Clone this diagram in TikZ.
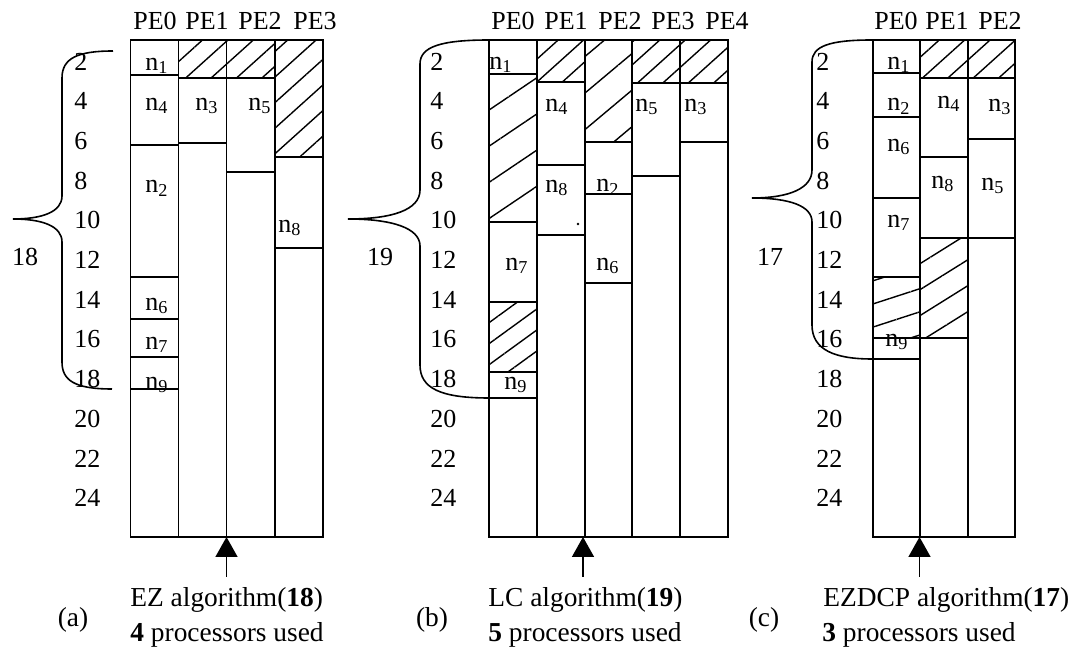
\documentclass[tikz,border=0pt]{standalone}
\usepackage{fontspec}
\setmainfont{Liberation Serif}
\usetikzlibrary{positioning, arrows.meta, patterns.meta}

\begin{document}
\begin{tikzpicture}[
    x=0.5pt, y=-0.5pt,
    % 枠と区切り線
    frame/.style={draw, line width=0.9pt},
    % 斜線部（アイドル時間）: 角度, 間隔
    idle/.style 2 args={pattern={Lines[angle=#1, distance=#2, line width=0.7pt]}},
    % 文字のスタイル
    tlabel/.style={font=\fontsize{13}{15}\selectfont, inner sep=0pt},
    pe/.style={font=\fontsize{13}{15}\selectfont, inner sep=0pt},
    tick/.style={font=\fontsize{13}{15}\selectfont, inner sep=0pt, anchor=west},
    caption/.style={font=\fontsize{13.7}{16}\selectfont, inner sep=0pt, anchor=base west},
    tag/.style={font=\fontsize{13.7}{16}\selectfont, inner sep=0pt, anchor=base},
    brace/.style={draw, line width=0.8pt},
    line/.style={draw, line width=0.8pt, -{Triangle[length=10pt, width=11pt]}}
  ]
  \useasboundingbox (0,0) rectangle (1073,657);

  % ===================== (a) EZ =====================
  % --- 斜線部 ---
  \path[idle={42}{8.5pt}] (178.5,40) rectangle (275,78);
  \path[idle={42}{9.5pt}] (275,40) rectangle (323,157);

  % --- 枠と列 ---
  \draw[frame] (130.5,40) rectangle (323,537);
  \draw[frame] (178.5,40) -- (178.5,537) (226.5,40) -- (226.5,537) (275,40) -- (275,537);
  \draw[frame] (130.5,75) -- (178.5,75) (130.5,145) -- (178.5,145) (130.5,277) -- (178.5,277)
               (130.5,319) -- (178.5,319) (130.5,357) -- (178.5,357) (130.5,389) -- (178.5,389);
  \draw[frame] (178.5,78) -- (275,78) (178.5,143) -- (226.5,143) (226.5,172) -- (275,172);
  \draw[frame] (275,157) -- (323,157) (275,248) -- (323,248);

  % --- PE名 ---
  \node[pe] (a-pe0) at (155,21) {PE0};
  \node[pe] (a-pe1) at (207,21) {PE1};
  \node[pe] (a-pe2) at (260,21) {PE2};
  \node[pe] (a-pe3) at (315,21) {PE3};

  % --- タスク ---
  \node[tlabel] (a-n1) at (157,66) {n\textsubscript{1}};
  \node[tlabel] (a-n4) at (157,106) {n\textsubscript{4}};
  \node[tlabel] (a-n3) at (207,106) {n\textsubscript{3}};
  \node[tlabel] (a-n5) at (260,106) {n\textsubscript{5}};
  \node[tlabel] (a-n2) at (157,188) {n\textsubscript{2}};
  \node[tlabel] (a-n8) at (290,228) {n\textsubscript{8}};
  \node[tlabel] (a-n6) at (157,306) {n\textsubscript{6}};
  \node[tlabel] (a-n7) at (157,345) {n\textsubscript{7}};
  \node[tlabel] (a-n9) at (157,385) {n\textsubscript{9}};

  % --- 時間軸 ---
  \foreach \t [count=\k from 0] in {2,4,...,24}
    \node[tick] (a-t\t) at (74,61.5+39.7*\k) {\t};
  \draw[brace] (113,51) .. controls (78,51) and (62,58) .. (62,78) -- (62,196)
               .. controls (62,212) and (42,219) .. (13,219)
               .. controls (42,219) and (62,226) .. (62,242) -- (62,362)
               .. controls (62,380) and (74,389) .. (112,389);
  \node[tlabel] (a-len) at (25,257) {18};

  % --- 矢印と説明 ---
  \coordinate (a-base) at (226.5,537);
  \coordinate (a-tail) at (226.5,577);
  \draw[line] (a-tail) -- (a-base);
  \node[caption] (a-alg) at (130,607) {EZ algorithm(\textbf{18})};
  \node[caption] (a-num) at (130,642) {\textbf{4} processors used};
  \node[tag] (a-tag) at (73,627) {(a)};

  % ===================== (b) LC =====================
  % --- 斜線部 ---
  \path[idle={34}{15pt}] (489,74) rectangle (536.7,222);
  \path[idle={36}{8.5pt}] (489,302) rectangle (536.7,372);
  \path[idle={42}{8.5pt}] (536.7,40) rectangle (585,82);
  \path[idle={40}{14pt}] (585,40) rectangle (632.3,142);
  \path[idle={42}{8.5pt}] (632.3,40) rectangle (728,83);

  % --- 枠と列 ---
  \draw[frame] (489,40) rectangle (728,537);
  \draw[frame] (536.7,40) -- (536.7,537) (585,40) -- (585,537) (632.3,40) -- (632.3,537)
               (680,40) -- (680,537);
  \draw[frame] (489,74) -- (536.7,74) (489,222) -- (536.7,222) (489,302) -- (536.7,302)
               (489,372) -- (536.7,372) (489,398) -- (536.7,398);
  \draw[frame] (536.7,82) -- (585,82) (536.7,165) -- (585,165) (536.7,235) -- (585,235);
  \draw[frame] (585,142) -- (632.3,142) (585,194) -- (632.3,194) (585,283) -- (632.3,283);
  \draw[frame] (632.3,83) -- (728,83) (632.3,176) -- (680,176) (680,142) -- (728,142);
  \fill (578,224) circle (1.3);

  % --- PE名 ---
  \node[pe] (b-pe0) at (513,21) {PE0};
  \node[pe] (b-pe1) at (566,21) {PE1};
  \node[pe] (b-pe2) at (620,21) {PE2};
  \node[pe] (b-pe3) at (673,21) {PE3};
  \node[pe] (b-pe4) at (727,21) {PE4};

  % --- タスク ---
  \node[tlabel] (b-n1) at (501,65) {n\textsubscript{1}};
  \node[tlabel] (b-n4) at (557,107) {n\textsubscript{4}};
  \node[tlabel] (b-n5) at (647,107) {n\textsubscript{5}};
  \node[tlabel] (b-n3) at (696,107) {n\textsubscript{3}};
  \node[tlabel] (b-n8) at (557,188) {n\textsubscript{8}};
  \node[tlabel] (b-n2) at (608,187) {n\textsubscript{2}};
  \node[tlabel] (b-n7) at (517,266) {n\textsubscript{7}};
  \node[tlabel] (b-n6) at (608,266) {n\textsubscript{6}};
  \node[tlabel] (b-n9) at (516,385) {n\textsubscript{9}};

  % --- 時間軸 ---
  \foreach \t [count=\k from 0] in {2,4,...,24}
    \node[tick] (b-t\t) at (430,61.5+39.7*\k) {\t};
  \draw[brace] (489,40) .. controls (440,40) and (420,47) .. (420,64) -- (420,190)
               .. controls (420,210) and (392,219) .. (348,219)
               .. controls (392,219) and (420,228) .. (420,246) -- (420,365)
               .. controls (420,388) and (440,398) .. (489,398);
  \node[tlabel] (b-len) at (380,257) {19};

  % --- 矢印と説明 ---
  \coordinate (b-base) at (583,537);
  \coordinate (b-tail) at (583,577);
  \draw[line] (b-tail) -- (b-base);
  \node[caption] (b-alg) at (488,607) {LC algorithm(\textbf{19})};
  \node[caption] (b-num) at (488,642) {\textbf{5} processors used};
  \node[tag] (b-tag) at (432,627) {(b)};

  % ===================== (c) EZDCP =====================
  % --- 斜線部 ---
  \path[idle={18}{11pt}] (872.7,277) rectangle (920,338);
  \path[idle={32}{11pt}] (920,238) rectangle (968.3,338);
  \path[idle={42}{8.5pt}] (920,40) rectangle (1015,78);

  % --- 枠と列 ---
  \draw[frame] (872.7,40) rectangle (1015,537);
  \draw[frame] (920,40) -- (920,537) (968.3,40) -- (968.3,537);
  \draw[frame] (872.7,73) -- (920,73) (872.7,117) -- (920,117) (872.7,198) -- (920,198)
               (872.7,277) -- (920,277) (872.7,338) -- (920,338) (872.7,359) -- (920,359);
  \draw[frame] (920,78) -- (1015,78) (920,157) -- (968.3,157) (920,238) -- (1015,238)
               (920,338) -- (968.3,338) (968.3,139) -- (1015,139);

  % --- PE名 ---
  \node[pe] (c-pe0) at (896,21) {PE0};
  \node[pe] (c-pe1) at (947,21) {PE1};
  \node[pe] (c-pe2) at (1000,21) {PE2};

  % --- タスク ---
  \node[tlabel] (c-n1) at (899,65) {n\textsubscript{1}};
  \node[tlabel] (c-n2) at (899,106) {n\textsubscript{2}};
  \node[tlabel] (c-n4) at (949,104) {n\textsubscript{4}};
  \node[tlabel] (c-n3) at (1000,107) {n\textsubscript{3}};
  \node[tlabel] (c-n6) at (899,147) {n\textsubscript{6}};
  \node[tlabel] (c-n8) at (943,184) {n\textsubscript{8}};
  \node[tlabel] (c-n5) at (993,186) {n\textsubscript{5}};
  \node[tlabel] (c-n7) at (899,223) {n\textsubscript{7}};
  \node[tlabel] (c-n9) at (897,342) {n\textsubscript{9}};

  % --- 時間軸 ---
  \foreach \t [count=\k from 0] in {2,4,...,24}
    \node[tick] (c-t\t) at (816,61.5+39.7*\k) {\t};
  \draw[brace] (872,40) .. controls (830,40) and (812,46) .. (812,62) -- (812,170)
               .. controls (812,188) and (790,198) .. (752,198)
               .. controls (790,198) and (812,206) .. (812,222) -- (812,325)
               .. controls (812,350) and (835,359) .. (872,359);
  \node[tlabel] (c-len) at (770,257) {17};

  % --- 矢印と説明 ---
  \coordinate (c-base) at (919.5,537);
  \coordinate (c-tail) at (919.5,577);
  \draw[line] (c-tail) -- (c-base);
  \node[caption] (c-alg) at (823,607) {EZDCP algorithm(\textbf{17})};
  \node[caption] (c-num) at (822,642) {\textbf{3} processors used};
  \node[tag] (c-tag) at (764,627) {(c)};

\end{tikzpicture}
\end{document}
